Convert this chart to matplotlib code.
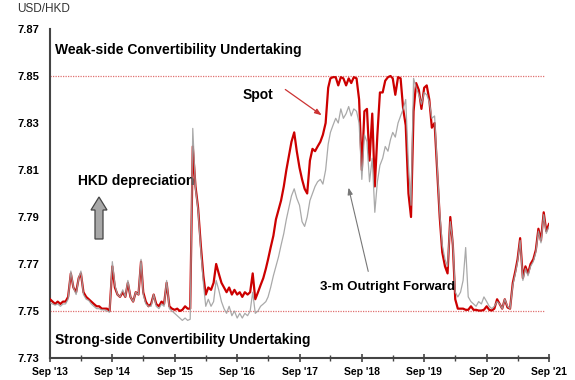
import matplotlib
matplotlib.use("Agg")
import matplotlib.pyplot as plt
from matplotlib.patches import Polygon
import pandas as pd

# semi-monthly observation dates (1st and 16th of each month), Sep 2013 - Sep 2021
dates = []
for y in range(2013, 2022):
    for m in range(1, 13):
        for d in (1, 16):
            dt = pd.Timestamp(year=y, month=m, day=d)
            if pd.Timestamp("2013-09-01") <= dt <= pd.Timestamp("2021-09-01"):
                dates.append(dt)

spot = [
    7.755, 7.754, 7.753, 7.754, 7.753, 7.754, 7.754, 7.756, 7.766, 7.760,
    7.758, 7.764, 7.766, 7.758, 7.756, 7.755, 7.754, 7.753, 7.752, 7.752,
    7.751, 7.751, 7.751, 7.750, 7.769, 7.760, 7.757, 7.756, 7.758, 7.756,
    7.762, 7.756, 7.754, 7.758, 7.757, 7.771, 7.758, 7.754, 7.752, 7.753,
    7.757, 7.753, 7.752, 7.754, 7.753, 7.762, 7.752, 7.751, 7.7505, 7.751,
    7.750, 7.7505, 7.752, 7.751, 7.751, 7.820, 7.803, 7.794, 7.778, 7.765,
    7.757, 7.760, 7.759, 7.762, 7.770, 7.766, 7.762, 7.760, 7.758, 7.760,
    7.757, 7.759, 7.757, 7.758, 7.756, 7.758, 7.757, 7.758, 7.766, 7.755,
    7.758, 7.761, 7.764, 7.768, 7.772, 7.777, 7.782, 7.789, 7.793, 7.797,
    7.803, 7.810, 7.816, 7.822, 7.826, 7.818, 7.811, 7.806, 7.802, 7.800,
    7.814, 7.819, 7.818, 7.820, 7.822, 7.825, 7.830, 7.845, 7.849, 7.8495,
    7.8495, 7.846, 7.8495, 7.849, 7.846, 7.849, 7.847, 7.8495, 7.849, 7.840,
    7.810, 7.835, 7.836, 7.814, 7.834, 7.803, 7.825, 7.843, 7.843, 7.848,
    7.8495, 7.850, 7.849, 7.842, 7.8495, 7.849, 7.836, 7.829, 7.800, 7.790,
    7.835, 7.847, 7.844, 7.836, 7.845, 7.846, 7.840, 7.828, 7.830, 7.810,
    7.790, 7.775, 7.769, 7.766, 7.790, 7.778, 7.755, 7.751, 7.751, 7.751,
    7.7505, 7.7505, 7.752, 7.7505, 7.7505, 7.7502, 7.7502, 7.7505, 7.752, 7.7505,
    7.7502, 7.751, 7.755, 7.753, 7.751, 7.755, 7.7515, 7.751, 7.762, 7.767,
    7.772, 7.781, 7.764, 7.769, 7.766, 7.770, 7.772, 7.776, 7.785, 7.780,
    7.792, 7.784, 7.787,
]

forward = [
    7.7535, 7.753, 7.7525, 7.753, 7.752, 7.753, 7.753, 7.755, 7.767, 7.760,
    7.757, 7.764, 7.767, 7.757, 7.755, 7.7545, 7.753, 7.752, 7.751, 7.751,
    7.7505, 7.7505, 7.750, 7.7495, 7.771, 7.761, 7.757, 7.756, 7.759, 7.756,
    7.763, 7.756, 7.754, 7.758, 7.757, 7.772, 7.757, 7.753, 7.752, 7.752,
    7.757, 7.752, 7.751, 7.753, 7.752, 7.763, 7.751, 7.750, 7.749, 7.748,
    7.747, 7.746, 7.747, 7.746, 7.7465, 7.8277, 7.802, 7.793, 7.776, 7.762,
    7.752, 7.755, 7.752, 7.754, 7.763, 7.759, 7.754, 7.751, 7.749, 7.752,
    7.748, 7.750, 7.747, 7.749, 7.747, 7.749, 7.748, 7.750, 7.758, 7.749,
    7.750, 7.752, 7.753, 7.754, 7.756, 7.760, 7.765, 7.769, 7.773, 7.778,
    7.783, 7.789, 7.794, 7.799, 7.802, 7.798, 7.795, 7.788, 7.786, 7.790,
    7.797, 7.800, 7.803, 7.805, 7.806, 7.804, 7.810, 7.821, 7.826, 7.829,
    7.832, 7.830, 7.836, 7.832, 7.834, 7.837, 7.833, 7.836, 7.835, 7.830,
    7.806, 7.825, 7.822, 7.805, 7.815, 7.792, 7.805, 7.812, 7.815, 7.820,
    7.818, 7.823, 7.826, 7.824, 7.830, 7.833, 7.836, 7.840, 7.812, 7.795,
    7.849, 7.845, 7.842, 7.838, 7.843, 7.842, 7.839, 7.832, 7.833, 7.812,
    7.792, 7.778, 7.772, 7.769, 7.788, 7.779, 7.758, 7.756, 7.758, 7.763,
    7.777, 7.756, 7.754, 7.753, 7.752, 7.754, 7.753, 7.756, 7.754, 7.752,
    7.751, 7.752, 7.754, 7.753, 7.751, 7.755, 7.752, 7.751, 7.761, 7.766,
    7.771, 7.780, 7.763, 7.768, 7.765, 7.769, 7.771, 7.775, 7.784, 7.779,
    7.791, 7.783, 7.786,
]

y_ticks = [7.73, 7.75, 7.77, 7.79, 7.81, 7.83, 7.85, 7.87]
x_tick_years = [2013, 2014, 2015, 2016, 2017, 2018, 2019, 2020, 2021]
weak_side = 7.85
strong_side = 7.75

plt.rcParams['font.family'] = ['Liberation Sans', 'DejaVu Sans']

W, H = 575, 380
fig = plt.figure(figsize=(W / 100, H / 100), dpi=100)
ax = fig.add_axes([50 / W, 22 / H, 499 / W, 329 / H])

red = '#cc0000'
grey = '#a0a0a0'

ax.axhline(weak_side, color='#e07070', lw=0.9, ls=(0, (1, 1)), xmin=0, xmax=0.99)
ax.axhline(strong_side, color='#e07070', lw=0.9, ls=(0, (1, 1)), xmin=0, xmax=0.99)

ax.plot(dates, spot, color=red, lw=1.6, zorder=3)
ax.plot(dates, forward, color=grey, lw=0.9, alpha=0.9, zorder=4)

ax.set_ylim(7.73, 7.87)
ax.set_xlim(pd.Timestamp('2013-09-01'), pd.Timestamp('2021-09-01'))
ax.set_yticks(y_ticks)
ax.set_yticklabels([f"{v:.2f}" for v in y_ticks], fontsize=8, fontweight='bold')

major = [pd.Timestamp(year=y, month=9, day=1) for y in x_tick_years]
minor = [pd.Timestamp(year=y, month=3, day=1) for y in x_tick_years[1:]]
ax.set_xticks(major)
ax.set_xticklabels([f"Sep '{str(y)[2:]}" for y in x_tick_years], fontsize=7.5, fontweight='bold')
ax.set_xticks(minor, minor=True)
ax.tick_params(axis='x', which='major', direction='inout', length=6, width=1.2, color='#444444', pad=3.5)
ax.tick_params(axis='x', which='minor', direction='inout', length=4, width=1.0, color='#444444')
ax.tick_params(axis='y', length=0, pad=7.5)

for s in ['top', 'right']:
    ax.spines[s].set_visible(False)
for s in ['left', 'bottom']:
    ax.spines[s].set_color('#444444')
    ax.spines[s].set_linewidth(1.5)

fig.text(17 / W, 1 - 9 / H, 'USD/HKD', fontsize=8.5, color='#333333', va='center', ha='left')

ax.text(0.010, 0.936, 'Weak-side Convertibility Undertaking', transform=ax.transAxes,
        fontsize=10, fontweight='bold', va='center', ha='left')
ax.text(0.010, 0.055, 'Strong-side Convertibility Undertaking', transform=ax.transAxes,
        fontsize=10, fontweight='bold', va='center', ha='left')
ax.text(0.056, 0.538, 'HKD depreciation', transform=ax.transAxes,
        fontsize=10, fontweight='bold', va='center', ha='left')
ax.text(0.417, 0.799, 'Spot', transform=ax.transAxes,
        fontsize=10, fontweight='bold', va='center', ha='center')
ax.text(0.541, 0.216, '3-m Outright Forward', transform=ax.transAxes,
        fontsize=9.5, fontweight='bold', va='center', ha='left')

ax.annotate('', xy=(0.549, 0.733), xytext=(0.467, 0.821), xycoords='axes fraction',
            arrowprops=dict(arrowstyle='-|>,head_length=0.4,head_width=0.15', color='#cc3333', lw=0.9))
ax.annotate('', xy=(0.597, 0.526), xytext=(0.639, 0.255), xycoords='axes fraction',
            arrowprops=dict(arrowstyle='-|>,head_length=0.4,head_width=0.15', color='#777777', lw=0.8))

# block up-arrow (pixel geometry converted to figure fraction)
arrow_px = [(95, 239), (103, 239), (103, 210), (107, 210), (99, 197), (91, 210), (95, 210)]
arrow_fig = [(px / W, 1 - py / H) for px, py in arrow_px]
fig.patches.append(Polygon(arrow_fig, closed=True, transform=fig.transFigure,
                           facecolor='#a8a8a8', edgecolor='#444444', lw=0.9))

fig.savefig('out.png', dpi=100)
